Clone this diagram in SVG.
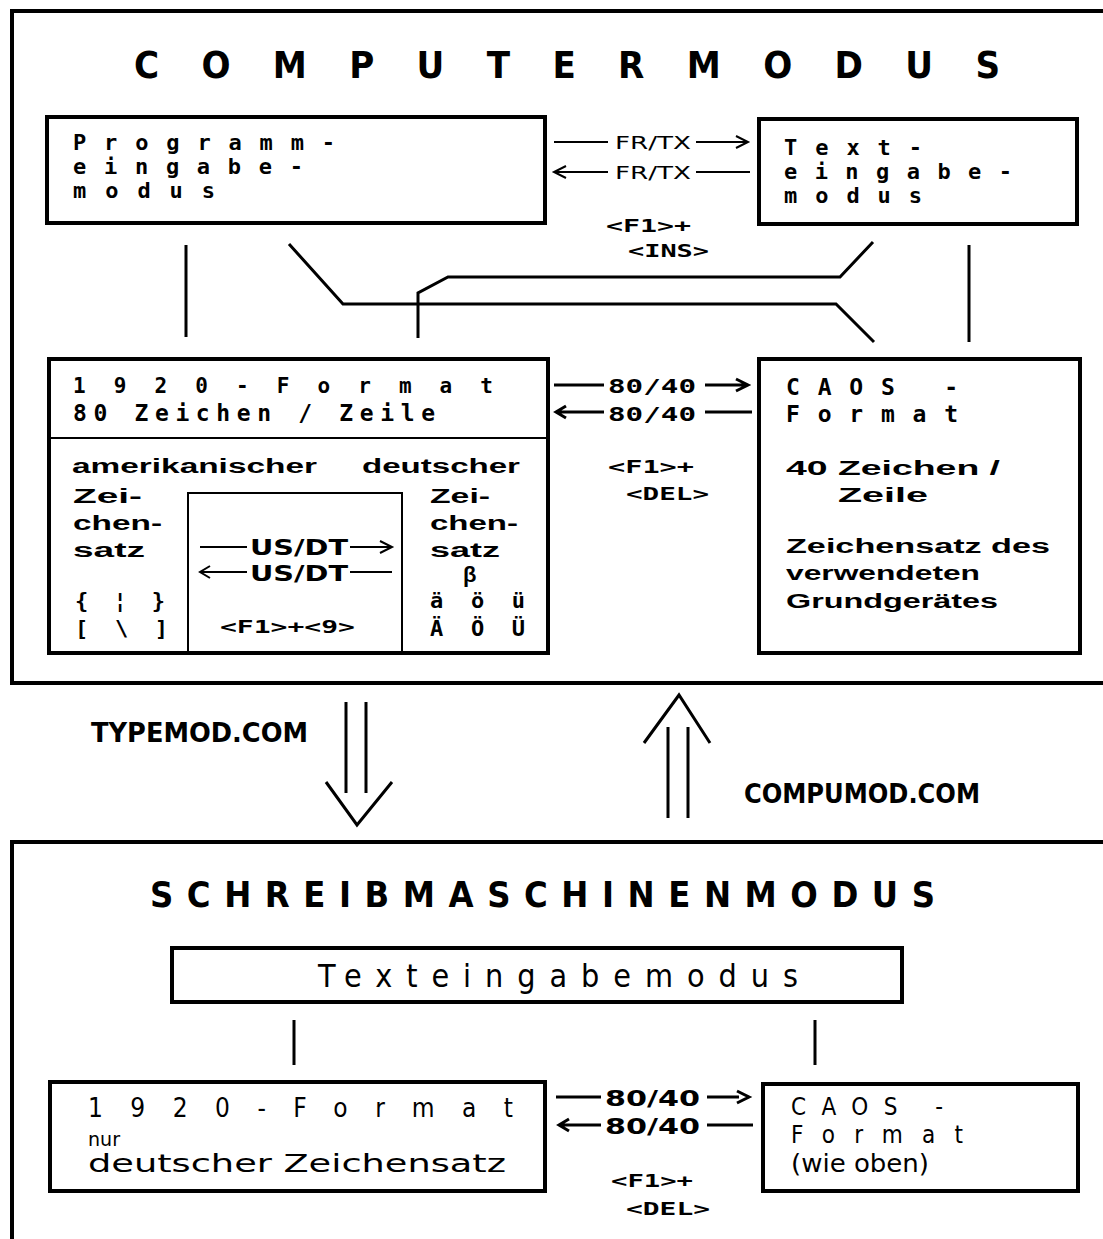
<svg xmlns="http://www.w3.org/2000/svg" width="1103" height="1239" viewBox="0 0 1103 1239">
<style>
.bx{fill:#fff;stroke:#000;stroke-width:4}
.fr{fill:none;stroke:#000;stroke-width:4}
.ln{fill:none;stroke:#000;stroke-width:3}
.tn{fill:none;stroke:#000;stroke-width:2}
text{fill:#000}
.m{font-family:"DejaVu Sans Mono",monospace;font-weight:bold}
.c{font-family:"DejaVu Sans Condensed","DejaVu Sans",sans-serif}
.cb{font-family:"DejaVu Sans Condensed","DejaVu Sans",sans-serif;font-weight:bold}
.p{font-family:"Liberation Sans",Arial,sans-serif;font-weight:bold}
</style>
<rect width="1103" height="1239" fill="#fff"/>
<g id="frame-computer">
<path class="fr" d="M1103,11 H12 V683 H1103"/>
<text class="cb" x="134" y="78" font-size="38" textLength="866" lengthAdjust="spacing">COMPUTERMODUS</text>
</g>
<g id="programmeingabe">
<rect class="bx" x="47" y="117" width="498" height="106"/>
<text class="m" font-size="22" x="73" y="150" textLength="262" lengthAdjust="spacing">Programm-</text>
<text class="m" font-size="22" x="73" y="174" textLength="230" lengthAdjust="spacing">eingabe-</text>
<text class="m" font-size="22" x="73" y="198" textLength="142" lengthAdjust="spacing">modus</text>
</g>
<g id="texteingabe">
<rect class="bx" x="759" y="119" width="318" height="105"/>
<text class="m" font-size="22" x="784" y="155" textLength="138" lengthAdjust="spacing">Text-</text>
<text class="m" font-size="22" x="784" y="179" textLength="228" lengthAdjust="spacing">eingabe-</text>
<text class="m" font-size="22" x="784" y="203" textLength="138" lengthAdjust="spacing">modus</text>
</g>
<g id="format1920">
<rect class="bx" x="49" y="359" width="499" height="294"/>
<path class="tn" d="M49,438 H548 M188,655 V493 H402 V655"/>
<text class="m" font-size="21" x="73" y="393" textLength="420" lengthAdjust="spacing">1920-Format</text>
<text class="m" font-size="23" x="73" y="421" textLength="362" lengthAdjust="spacing">80 Zeichen / Zeile</text>
<text class="p" font-size="20" x="72" y="473" textLength="245" lengthAdjust="spacingAndGlyphs">amerikanischer</text>
<text class="p" font-size="20" x="362" y="473" textLength="158" lengthAdjust="spacingAndGlyphs">deutscher</text>
<text class="p" font-size="20" x="73" y="503" textLength="69" lengthAdjust="spacingAndGlyphs">Zei-</text>
<text class="p" font-size="20" x="73" y="530" textLength="89" lengthAdjust="spacingAndGlyphs">chen-</text>
<text class="p" font-size="20" x="73" y="557" textLength="72" lengthAdjust="spacingAndGlyphs">satz</text>
<text class="p" font-size="20" x="430" y="503" textLength="60" lengthAdjust="spacingAndGlyphs">Zei-</text>
<text class="p" font-size="20" x="430" y="530" textLength="88" lengthAdjust="spacingAndGlyphs">chen-</text>
<text class="p" font-size="20" x="430" y="557" textLength="70" lengthAdjust="spacingAndGlyphs">satz</text>
<text class="p" font-size="22" x="463" y="582">β</text>
<text class="m" font-size="22" x="75" y="608" textLength="90" lengthAdjust="spacing">{ ¦ }</text>
<text class="m" font-size="22" x="75" y="636" textLength="93" lengthAdjust="spacing">[ \ ]</text>
<text class="m" font-size="22" x="430" y="608" textLength="95" lengthAdjust="spacing">ä ö ü</text>
<text class="m" font-size="22" x="430" y="636" textLength="95" lengthAdjust="spacing">Ä Ö Ü</text>
<path class="tn" d="M200,547 H247 M350,547 H390 M380,541 L392,547 L380,553 M210,566 L200,572 L210,578 M200,572 H247 M350,572 H392"/>
<text class="cb" font-size="22" x="250" y="555" textLength="98" lengthAdjust="spacingAndGlyphs">US/DT</text>
<text class="cb" font-size="22" x="250" y="581" textLength="98" lengthAdjust="spacingAndGlyphs">US/DT</text>
<text class="m" font-size="18" x="220" y="633" textLength="135" lengthAdjust="spacingAndGlyphs">&lt;F1&gt;+&lt;9&gt;</text>
</g>
<g id="caos">
<rect class="bx" x="759" y="359" width="321" height="294"/>
<text class="m" font-size="23" x="786" y="395" textLength="172" lengthAdjust="spacing">CAOS -</text>
<text class="m" font-size="23" x="786" y="422" textLength="172" lengthAdjust="spacing">Format</text>
<text class="p" font-size="20" x="786" y="475" textLength="214" lengthAdjust="spacingAndGlyphs">40 Zeichen /</text>
<text class="p" font-size="20" x="838" y="502" textLength="90" lengthAdjust="spacingAndGlyphs">Zeile</text>
<text class="p" font-size="20" x="786" y="553" textLength="264" lengthAdjust="spacingAndGlyphs">Zeichensatz des</text>
<text class="p" font-size="20" x="786" y="580" textLength="194" lengthAdjust="spacingAndGlyphs">verwendeten</text>
<text class="p" font-size="20" x="786" y="608" textLength="212" lengthAdjust="spacingAndGlyphs">Grundgerätes</text>
</g>
<g id="frame-schreibmaschine">
<path class="fr" d="M1103,842 H12 V1239"/>
<text class="cb" x="150" y="907" font-size="36" textLength="785" lengthAdjust="spacing">SCHREIBMASCHINENMODUS</text>
</g>
<g id="texteingabemodus">
<rect class="bx" x="172" y="948" width="730" height="54"/>
<text class="c" font-size="32" x="318" y="987" textLength="480" lengthAdjust="spacing">Texteingabemodus</text>
</g>
<g id="format1920-b">
<rect class="bx" x="50" y="1082" width="495" height="109"/>
<text class="c" font-size="26" x="88" y="1117" textLength="425" lengthAdjust="spacing">1920-Format</text>
<text class="c" font-size="20" x="88" y="1146" textLength="32" lengthAdjust="spacingAndGlyphs">nur</text>
<text class="c" font-size="24" x="88" y="1172" textLength="418" lengthAdjust="spacingAndGlyphs">deutscher Zeichensatz</text>
</g>
<g id="caos-b">
<rect class="bx" x="763" y="1084" width="315" height="107"/>
<text class="c" font-size="24" x="791" y="1115" textLength="152" lengthAdjust="spacing">CAOS -</text>
<text class="c" font-size="24" x="791" y="1143" textLength="172" lengthAdjust="spacing">Format</text>
<text class="c" font-size="24" x="791" y="1172" textLength="138" lengthAdjust="spacingAndGlyphs">(wie oben)</text>
</g>
<g id="connectors">
<path class="tn" d="M554,142 H608 M696,142 H746 M736,136 L748,142 L736,148 M566,166 L554,172 L566,178 M554,172 H608 M696,172 H750"/>
<text class="c" font-size="18" x="615" y="149" textLength="76" lengthAdjust="spacingAndGlyphs">FR/TX</text>
<text class="c" font-size="18" x="615" y="179" textLength="76" lengthAdjust="spacingAndGlyphs">FR/TX</text>
<text class="m" font-size="17" x="606" y="232" textLength="85" lengthAdjust="spacingAndGlyphs">&lt;F1&gt;+</text>
<text class="m" font-size="17" x="628" y="257" textLength="81" lengthAdjust="spacingAndGlyphs">&lt;INS&gt;</text>
<path class="ln" d="M186,245 V337 M969,245 V342 M289,244 L343,304 H836 L874,342 M418,338 V293 L448,277 H840 L873,242"/>
<path class="ln" d="M554,385 H604 M705,385 H746 M736,379 L748,385 L736,391 M566,406 L556,412 L566,418 M556,412 H604 M705,412 H752"/>
<text class="m" font-size="20" x="608" y="393" textLength="88" lengthAdjust="spacingAndGlyphs">80/40</text>
<text class="m" font-size="20" x="608" y="421" textLength="88" lengthAdjust="spacingAndGlyphs">80/40</text>
<text class="m" font-size="17" x="608" y="473" textLength="86" lengthAdjust="spacingAndGlyphs">&lt;F1&gt;+</text>
<text class="m" font-size="17" x="626" y="500" textLength="83" lengthAdjust="spacingAndGlyphs">&lt;DEL&gt;</text>
<path class="ln" d="M346,702 V793 M366,702 V793 M326,782 L357,825 L392,782 M668,727 V818 M688,727 V818 M644,743 L679,695 L710,743"/>
<text class="cb" font-size="26" x="91" y="742" textLength="217" lengthAdjust="spacingAndGlyphs">TYPEMOD.COM</text>
<text class="cb" font-size="26" x="744" y="803" textLength="236" lengthAdjust="spacingAndGlyphs">COMPUMOD.COM</text>
<path class="ln" d="M294,1020 V1065 M815,1020 V1065"/>
<path class="ln" d="M556,1097 H601 M707,1097 H739 M737,1091 L749,1097 L737,1103 M569,1119 L559,1125 L569,1131 M559,1125 H601 M707,1125 H753"/>
<text class="cb" font-size="22" x="605" y="1106" textLength="95" lengthAdjust="spacingAndGlyphs">80/40</text>
<text class="cb" font-size="22" x="605" y="1134" textLength="95" lengthAdjust="spacingAndGlyphs">80/40</text>
<text class="m" font-size="17" x="611" y="1187" textLength="82" lengthAdjust="spacingAndGlyphs">&lt;F1&gt;+</text>
<text class="m" font-size="17" x="626" y="1215" textLength="84" lengthAdjust="spacingAndGlyphs">&lt;DEL&gt;</text>
</g>
</svg>
